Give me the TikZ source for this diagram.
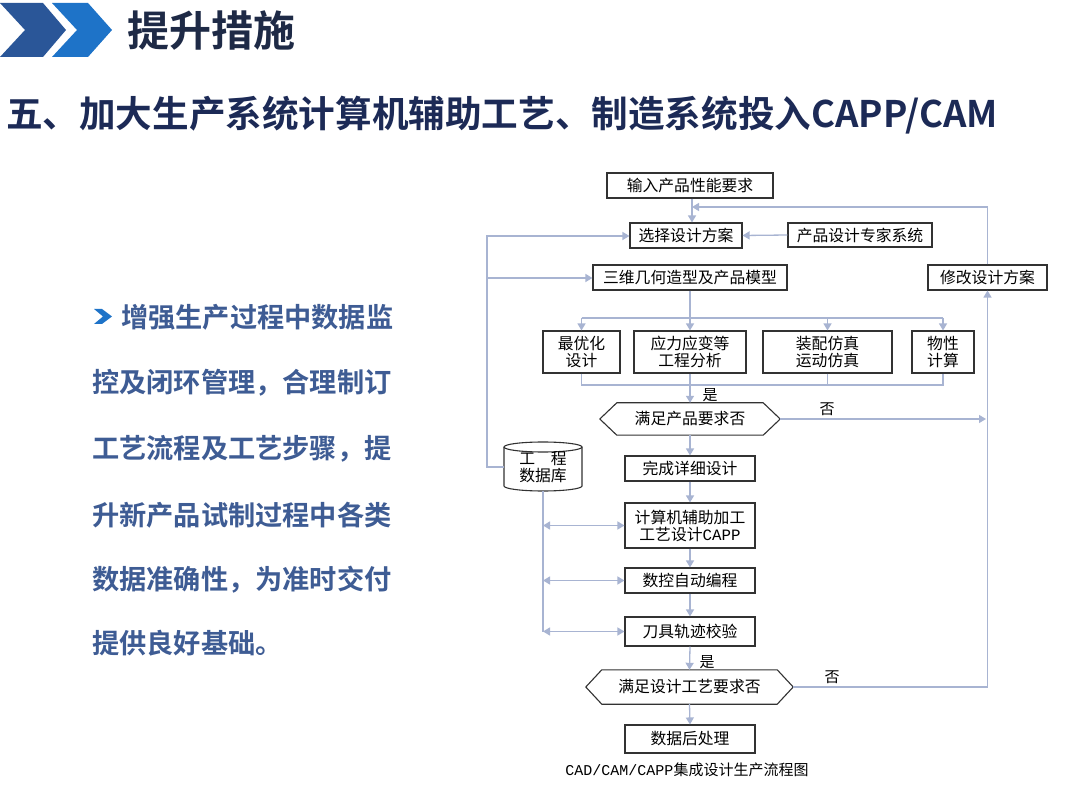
\documentclass[tikz,border=0pt]{standalone}
\usepackage{fontspec}
\setmainfont{Noto Sans CJK SC}[BoldFont={Noto Sans CJK SC Bold}]
\newfontfamily\monolat{Liberation Mono}
\usetikzlibrary{arrows.meta,shadows}
\definecolor{navy}{RGB}{30,42,70}
\definecolor{subnavy}{RGB}{28,42,86}
\definecolor{txtblue}{RGB}{62,92,148}
\definecolor{chevA}{RGB}{42,86,152}
\definecolor{chevB}{RGB}{30,115,200}
\definecolor{conncol}{RGB}{168,180,210}
\definecolor{boxcol}{RGB}{50,50,50}
\newcommand{\fsz}[2]{\fontsize{#1}{#2}\selectfont}
\begin{document}
\begin{tikzpicture}[x=1pt,y=-1pt,
  box/.style={draw=boxcol, line width=1.1pt, fill=white, inner sep=0pt, align=center,
    font=\fsz{15.8}{17}, drop shadow={shadow xshift=1.3pt, shadow yshift=-1.3pt, fill=black!30, opacity=1}},
  conn/.style={draw=conncol, line width=1.3pt},
  arr/.style={conn, -{Triangle[length=7pt,width=8pt]}},
  darr/.style={conn, {Triangle[length=7pt,width=8pt]}-{Triangle[length=7pt,width=8pt]}},
  plain/.style={inner sep=0pt, align=center},
  lbl/.style={inner sep=0pt, font=\fsz{15}{17}},
  body/.style={inner sep=0pt, anchor=west, text=txtblue, font=\fsz{27.2}{30}\bfseries},
  outline/.style={draw=boxcol, line width=1.1pt},
]
\fill[white] (0,0) rectangle (1080,810);
\useasboundingbox (0,0) rectangle (1080,810);

% header
\fill[chevA] (0,3) -- (43,3) -- (66,30) -- (43,57) -- (0,57) -- (25,30) -- cycle;
\fill[chevB] (52,3) -- (88,3) -- (112,30) -- (88,57) -- (52,57) -- (77,30) -- cycle;
\node[anchor=west, text=navy, font=\fsz{42}{46}\bfseries, inner sep=0pt] (title) at (127,31) {提升措施};
\node[anchor=west, text=subnavy, font=\fsz{36.6}{40}\bfseries, inner sep=0pt] (sub) at (6,115) {五、加大生产系统计算机辅助工艺、制造系统投入CAPP/CAM};

% left text
\fill[chevB] (94,309) -- (102,309) -- (112,316.5) -- (102,324) -- (94,324) -- (103,316.5) -- cycle;
\node[body] (t1) at (121,317) {增强生产过程中数据监};
\node[body] (t2) at (92,383) {控及闭环管理，合理制订};
\node[body] (t3) at (92,449) {工艺流程及工艺步骤，提};
\node[body] (t4) at (92,515) {升新产品试制过程中各类};
\node[body] (t5) at (92,580) {数据准确性，为准时交付};
\node[body] (t6) at (92,643) {提供良好基础。};

% flowchart boxes
\node[box, minimum width=166, minimum height=25] (in) at (690,185.5) {输入产品性能要求};
\node[box, minimum width=112, minimum height=25] (sel) at (686,235.5) {选择设计方案};
\node[box, minimum width=144, minimum height=24] (exp) at (860,235) {产品设计专家系统};
\node[box, minimum width=194, minimum height=25] (geo) at (690,277.5) {三维几何造型及产品模型};
\node[box, minimum width=119, minimum height=25] (mod) at (987.5,277.5) {修改设计方案};
\node[box, minimum width=77, minimum height=42] (opt) at (581.5,352) {最优化\\设计};
\node[box, minimum width=112, minimum height=42] (str) at (690,352) {应力应变等\\工程分析};
\node[box, minimum width=129, minimum height=42] (asm) at (827.5,352) {装配仿真\\运动仿真};
\node[box, minimum width=62, minimum height=42] (phy) at (943,352) {物性\\计算};

\node[plain, minimum width=180, minimum height=32, font=\fsz{15.8}{17}] (d1) at (690,419) {满足产品要求否};
\draw[outline] (d1.west) -- ([xshift=17pt]d1.north west) -- ([xshift=-17pt]d1.north east) -- (d1.east)
  -- ([xshift=-17pt]d1.south east) -- ([xshift=17pt]d1.south west) -- cycle;

\node[box, minimum width=130, minimum height=25] (det) at (690,468.5) {完成详细设计};
\node[box, minimum width=130, minimum height=45] (capp) at (690,525.5) {计算机辅助加工\\工艺设计{\monolat CAPP}};
\node[box, minimum width=130, minimum height=25] (nc) at (690,580.5) {数控自动编程};
\node[box, minimum width=130, minimum height=29] (tool) at (690,631.5) {刀具轨迹校验};

\node[plain, minimum width=207, minimum height=34, font=\fsz{15.8}{17}] (d2) at (689.5,687) {满足设计工艺要求否};
\draw[outline] (d2.west) -- ([xshift=16pt]d2.north west) -- ([xshift=-16pt]d2.north east) -- (d2.east)
  -- ([xshift=-16pt]d2.south east) -- ([xshift=16pt]d2.south west) -- cycle;

\node[box, minimum width=130, minimum height=28] (post) at (690,739) {数据后处理};

% database cylinder
\draw[outline, fill=white] (504,447) -- (504,486) arc[start angle=180, end angle=360, x radius=39pt, y radius=5pt]
  -- (582,447) arc[start angle=0, end angle=180, x radius=39pt, y radius=5pt] -- cycle;
\draw[outline] (504,447) arc[start angle=180, end angle=360, x radius=39pt, y radius=5pt];
\node[plain, minimum width=78, minimum height=48, font=\fsz{15.8}{17}] (db) at (543,467) {工\hspace{1em}程\\数据库};

% caption
\node[plain, font=\fsz{15}{17}] (cap) at (687,770) {{\monolat CAD/CAM/CAPP}集成设计生产流程图};

% connectors
\coordinate (jt) at (692,207);
\coordinate (lt) at (487,236);
\coordinate (lm) at (487,278);
\coordinate (br) at (690,318);
\coordinate (mg) at (690,385);
\coordinate (rr) at (986,419);

\draw[arr] (in.south -| jt) -- (jt |- sel.north);
\draw[arr] (mod.north) |- (jt);
\draw[arr] (exp.west) -- (sel.east);
\draw[arr] (db.west) -| (lt) -- (lt -| sel.west);
\draw[arr] (lm) -- (lm -| geo.west);
\draw[arr] (geo.south) -- (str.north);
\draw[conn] (opt.north |- br) -- (phy.north |- br);
\draw[arr] (opt.north |- br) -- (opt.north);
\draw[arr] (asm.north |- br) -- (asm.north);
\draw[arr] (phy.north |- br) -- (phy.north);
\draw[conn] (opt.south) -- (opt.south |- mg) -- (phy.south |- mg) -- (phy.south);
\draw[conn] (asm.south) -- (asm.south |- mg);
\draw[arr] (str.south) -- (d1.north);
\draw[arr] (d1.east) -- (rr);
\draw[arr] (d2.east) -| (mod.south);
\draw[arr] (d1.south) -- (det.north);
\draw[arr] (det.south) -- (capp.north);
\draw[arr] (capp.south) -- (nc.north);
\draw[arr] (nc.south) -- (tool.north);
\draw[arr] (tool.south) -- (d2.north);
\draw[arr] (d2.south) -- (post.north);
\draw[conn] (db.south) -- (db.south |- tool.west);
\draw[darr] (db.south |- capp.west) -- (capp.west);
\draw[darr] (db.south |- nc.west) -- (nc.west);
\draw[darr] (db.south |- tool.west) -- (tool.west);

% labels
\node[lbl] (y1) at (710,395) {是};
\node[lbl] (n1) at (827,409) {否};
\node[lbl] (y2) at (707,662) {是};
\node[lbl] (n2) at (832,677) {否};
\end{tikzpicture}
\end{document}
